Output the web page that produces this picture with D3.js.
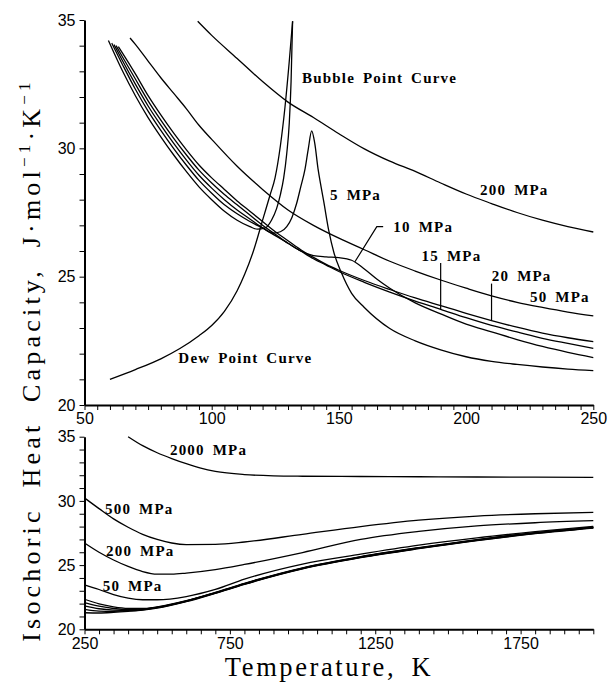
<!DOCTYPE html>
<html>
<head>
<meta charset="utf-8">
<script src="https://cdn.jsdelivr.net/npm/d3@7"></script>
<style>
  body { margin: 0; background: #fff; }
  .tick text { font-family: "Liberation Sans", Arial, sans-serif; font-size: 16px; }
  .lbl { font-family: "Liberation Serif", "Times New Roman", serif; font-weight: bold; font-size: 15px; letter-spacing: 1.2px; word-spacing: 3px; }
</style>
</head>
<body>
<div id="chart"></div>
<script>
// ---- top panel: 50-250 K ----
const tBubble  = [59.4, 65, 70, 75, 80, 85, 90, 95, 100, 105, 110, 115, 118, 121, 123.5, 125.5, 127, 128.3, 129.5, 130.5, 131.2, 131.8];
const cvBubble = [34.2, 33.0, 32.05, 31.2, 30.45, 29.75, 29.1, 28.5, 28.0, 27.55, 27.2, 26.95, 26.85, 26.9, 27.2, 27.65, 28.2, 28.85, 29.8, 31.0, 32.6, 34.95];

const tDew  = [60, 70, 80, 87.5, 95, 100, 105, 110, 113, 116.4, 120.3, 123, 124.9, 127, 128.8, 130.5, 131.8];
const cvDew = [21.0, 21.38, 21.8, 22.2, 22.7, 23.1, 23.65, 24.45, 25.1, 26.0, 27.3, 28.2, 28.85, 30.1, 31.6, 33.4, 34.95];

const t5  = [60.7, 65, 70, 75, 80, 85, 90, 95, 100, 105, 110, 115, 120, 124, 127, 129.5, 131.5, 133.4, 135, 136.7, 138, 139.3, 140.5, 141.8, 143, 144, 146, 148, 151, 155, 160, 170, 180, 190, 200, 210, 220, 230, 240, 250];
const cv5 = [34.1, 33.25, 32.3, 31.45, 30.7, 30.0, 29.35, 28.75, 28.25, 27.8, 27.45, 27.15, 26.9, 26.7, 26.75, 26.95, 27.3, 27.86, 28.5, 29.2, 30.0, 30.68, 30.2, 29.2, 28.5, 27.95, 26.8, 25.95, 25.15, 24.35, 23.8, 22.98, 22.5, 22.15, 21.88, 21.7, 21.58, 21.48, 21.4, 21.34];

const t10  = [61.6, 65, 70, 75, 80, 85, 90, 95, 100, 105, 110, 115, 120, 125, 130, 135, 140, 145, 150, 155, 160, 165, 170, 180, 190, 200, 210, 220, 230, 240, 250];
const cv10 = [34.04, 33.4, 32.5, 31.65, 30.9, 30.2, 29.55, 28.95, 28.45, 28.0, 27.6, 27.25, 26.9, 26.6, 26.3, 26.0, 25.82, 25.77, 25.74, 25.64, 25.3, 24.9, 24.55, 23.98, 23.55, 23.15, 22.85, 22.55, 22.28, 22.05, 21.85];

const t15  = [62.4, 65, 70, 75, 80, 85, 90, 95, 100, 105, 110, 115, 120, 125, 130, 135, 140, 145, 150, 160, 170, 180, 190, 200, 210, 220, 230, 240, 250];
const cv15 = [34.0, 33.55, 32.7, 31.85, 31.1, 30.4, 29.75, 29.15, 28.65, 28.2, 27.8, 27.4, 27.0, 26.65, 26.3, 26.0, 25.7, 25.45, 25.2, 24.78, 24.4, 24.05, 23.73, 23.4, 23.1, 22.85, 22.6, 22.4, 22.21];

const t20  = [63.3, 65, 70, 75, 80, 85, 90, 95, 100, 105, 110, 115, 120, 125, 130, 135, 140, 145, 150, 160, 170, 180, 190, 200, 210, 220, 230, 240, 250];
const cv20 = [33.96, 33.7, 32.9, 32.05, 31.3, 30.6, 29.95, 29.35, 28.85, 28.4, 27.95, 27.55, 27.15, 26.75, 26.4, 26.05, 25.75, 25.48, 25.25, 24.85, 24.5, 24.17, 23.87, 23.57, 23.29, 23.03, 22.8, 22.62, 22.47];

const t50  = [67.9, 70, 75, 80, 85, 90, 95, 100, 110, 120, 130, 140, 150, 160, 170, 180, 190, 200, 210, 220, 230, 240, 250];
const cv50 = [34.3, 34.05, 33.4, 32.75, 32.15, 31.55, 30.9, 30.35, 29.3, 28.4, 27.6, 27.0, 26.5, 26.05, 25.6, 25.22, 24.87, 24.55, 24.25, 24.0, 23.8, 23.62, 23.47];

const t200  = [94.5, 100, 110, 120, 130, 140, 150, 160, 170, 180, 190, 200, 210, 220, 230, 240, 250];
const cv200 = [34.95, 34.4, 33.5, 32.6, 31.8, 31.2, 30.57, 29.98, 29.5, 29.1, 28.65, 28.22, 27.85, 27.5, 27.2, 26.95, 26.74];

// ---- bottom panel: 250-2000 K ----
const tHot = [250, 300, 350, 400, 450, 500, 600, 700, 800, 1000, 1200, 1400, 1600, 1800, 2000];
const cvHotA   = [21.29, 21.27, 21.32, 21.4, 21.5, 21.65, 22.15, 22.8, 23.5, 24.71, 25.58, 26.28, 26.91, 27.45, 27.89];
const cvHotB   = [21.55, 21.42, 21.4, 21.43, 21.52, 21.68, 22.17, 22.82, 23.52, 24.73, 25.6, 26.3, 26.93, 27.47, 27.9];
const cvHotC   = [21.82, 21.6, 21.5, 21.48, 21.55, 21.7, 22.19, 22.84, 23.54, 24.75, 25.62, 26.32, 26.95, 27.49, 27.92];
const cvHotD   = [22.08, 21.8, 21.62, 21.55, 21.58, 21.72, 22.21, 22.86, 23.56, 24.77, 25.64, 26.34, 26.97, 27.51, 27.94];
const cvHotE   = [22.34, 21.98, 21.75, 21.63, 21.62, 21.75, 22.23, 22.88, 23.58, 24.79, 25.66, 26.36, 26.99, 27.53, 27.96];
const cvHot50  = [23.46, 23.1, 22.7, 22.42, 22.3, 22.3, 22.55, 23.1, 23.9, 25.08, 25.85, 26.55, 27.12, 27.6, 28.02];

const tHot200  = [250, 300, 350, 400, 450, 500, 550, 600, 700, 800, 1000, 1200, 1400, 1600, 1800, 2000];
const cvHot200 = [26.72, 26.0, 25.4, 24.9, 24.5, 24.3, 24.3, 24.38, 24.65, 25.05, 25.98, 27.0, 27.62, 28.05, 28.3, 28.46];
const cvHot500 = [30.23, 29.4, 28.6, 27.95, 27.4, 27.0, 26.72, 26.6, 26.62, 26.8, 27.4, 28.0, 28.5, 28.82, 29.0, 29.1];

const tHot2000  = [400, 450, 500, 550, 600, 650, 700, 800, 900, 1000, 1200, 1400, 1600, 1800, 2000];
const cvHot2000 = [35.0, 34.3, 33.75, 33.3, 32.9, 32.55, 32.3, 32.05, 31.95, 31.92, 31.9, 31.88, 31.86, 31.85, 31.83];

const topSeries = [
  [tBubble, cvBubble], [tDew, cvDew], [t5, cv5], [t10, cv10],
  [t15, cv15], [t20, cv20], [t50, cv50], [t200, cv200]
];
const botSeries = [
  [tHot, cvHotA], [tHot, cvHotB], [tHot, cvHotC], [tHot, cvHotD], [tHot, cvHotE], [tHot, cvHot50],
  [tHot200, cvHot200], [tHot200, cvHot500], [tHot2000, cvHot2000]
];

const width = 608, height = 683;

const svg = d3.select('#chart')
  .append('svg')
  .attr('width', width)
  .attr('height', height)
  .style('background', '#fff');

const xTop = d3.scaleLinear().domain([50, 250]).range([84.5, 593.3]);
const yTop = d3.scaleLinear().domain([20, 35]).range([405, 20]);
const xBot = d3.scaleLinear().domain([250, 2000]).range([84.5, 593.3]);
const yBot = d3.scaleLinear().domain([20, 35]).range([629.3, 436.7]);

function drawPanel(x, y, xTicks, xMajor, series) {
  svg.append('g')
    .attr('transform', `translate(0, ${y.range()[0]})`)
    .call(d3.axisBottom(x).tickValues(xTicks)
      .tickFormat(d => xMajor.includes(d) ? d : '')
      .tickSize(5).tickSizeOuter(0).tickPadding(3))
    .call(g => g.select('.domain').attr('stroke-width', 2));

  svg.append('g')
    .attr('transform', `translate(${x.range()[0]}, 0)`)
    .call(d3.axisLeft(y).tickValues(d3.range(20, 35.01, 1))
      .tickFormat(d => d % 5 === 0 ? d : '')
      .tickSize(5).tickSizeOuter(0).tickPadding(4))
    .call(g => g.select('.domain').attr('stroke-width', 2));

  const line = d3.line()
    .x(d => x(d[0]))
    .y(d => y(d[1]))
    .curve(d3.curveMonotoneX);

  svg.append('g')
    .selectAll('path')
    .data(series.map(s => s[0].map((t, i) => [t, s[1][i]])))
    .join('path')
    .attr('d', line)
    .attr('fill', 'none')
    .attr('stroke', '#000')
    .attr('stroke-width', 1.3);
}

drawPanel(xTop, yTop, d3.range(50, 251, 5), [50, 100, 150, 200, 250], topSeries);
drawPanel(xBot, yBot, d3.range(250, 2001, 50), [250, 750, 1250, 1750], botSeries);

// labels, placed in data units
const topLabels = [
  ['Bubble Point Curve', 135.5, 32.55],
  ['Dew Point Curve', 86.9, 21.64],
  ['5 MPa', 146.5, 27.99],
  ['200 MPa', 205.5, 28.18],
  ['10 MPa', 171.4, 26.74],
  ['15 MPa', 182.5, 25.61],
  ['20 MPa', 210.1, 24.83],
  ['50 MPa', 225.1, 24.01]
];
const botLabels = [
  ['2000 MPa', 544, 33.54],
  ['500 MPa', 320.5, 29.0],
  ['200 MPa', 324, 25.73],
  ['50 MPa', 312.6, 22.99]
];

svg.append('g').selectAll('text')
  .data(topLabels).join('text')
  .attr('class', 'lbl')
  .attr('x', d => xTop(d[1]))
  .attr('y', d => yTop(d[2]))
  .text(d => d[0]);

svg.append('g').selectAll('text')
  .data(botLabels).join('text')
  .attr('class', 'lbl')
  .attr('x', d => xBot(d[1]))
  .attr('y', d => yBot(d[2]))
  .text(d => d[0]);

// leader lines
const leaders = [
  [[167.4, 26.95], [164.9, 26.95], [156.3, 25.58]],
  [[190, 25.53], [190, 23.73]],
  [[210, 24.73], [210, 23.29]]
];
svg.append('g').selectAll('path')
  .data(leaders).join('path')
  .attr('d', d3.line().x(d => xTop(d[0])).y(d => yTop(d[1])))
  .attr('fill', 'none')
  .attr('stroke', '#000')
  .attr('stroke-width', 1.2);

// axis titles
svg.append('text')
  .attr('x', 329)
  .attr('y', 676)
  .attr('text-anchor', 'middle')
  .style('font-family', '"Liberation Serif", "Times New Roman", serif')
  .style('font-size', '26.5px')
  .style('letter-spacing', '2.6px')
  .style('word-spacing', '6px')
  .text('Temperature, K');

const yTitle = svg.append('text')
  .attr('transform', 'translate(40, 360) rotate(-90)')
  .attr('text-anchor', 'middle')
  .style('font-family', '"Liberation Serif", "Times New Roman", serif')
  .style('font-size', '26px')
  .style('letter-spacing', '4.2px')
  .style('word-spacing', '9px');
yTitle.append('tspan').text('Isochoric Heat Capacity, J·mol');
yTitle.append('tspan').attr('dy', -10).style('font-size', '17px').text('−1');
yTitle.append('tspan').attr('dy', 10).text('·K');
yTitle.append('tspan').attr('dy', -10).style('font-size', '17px').text('−1');
</script>
</body>
</html>
